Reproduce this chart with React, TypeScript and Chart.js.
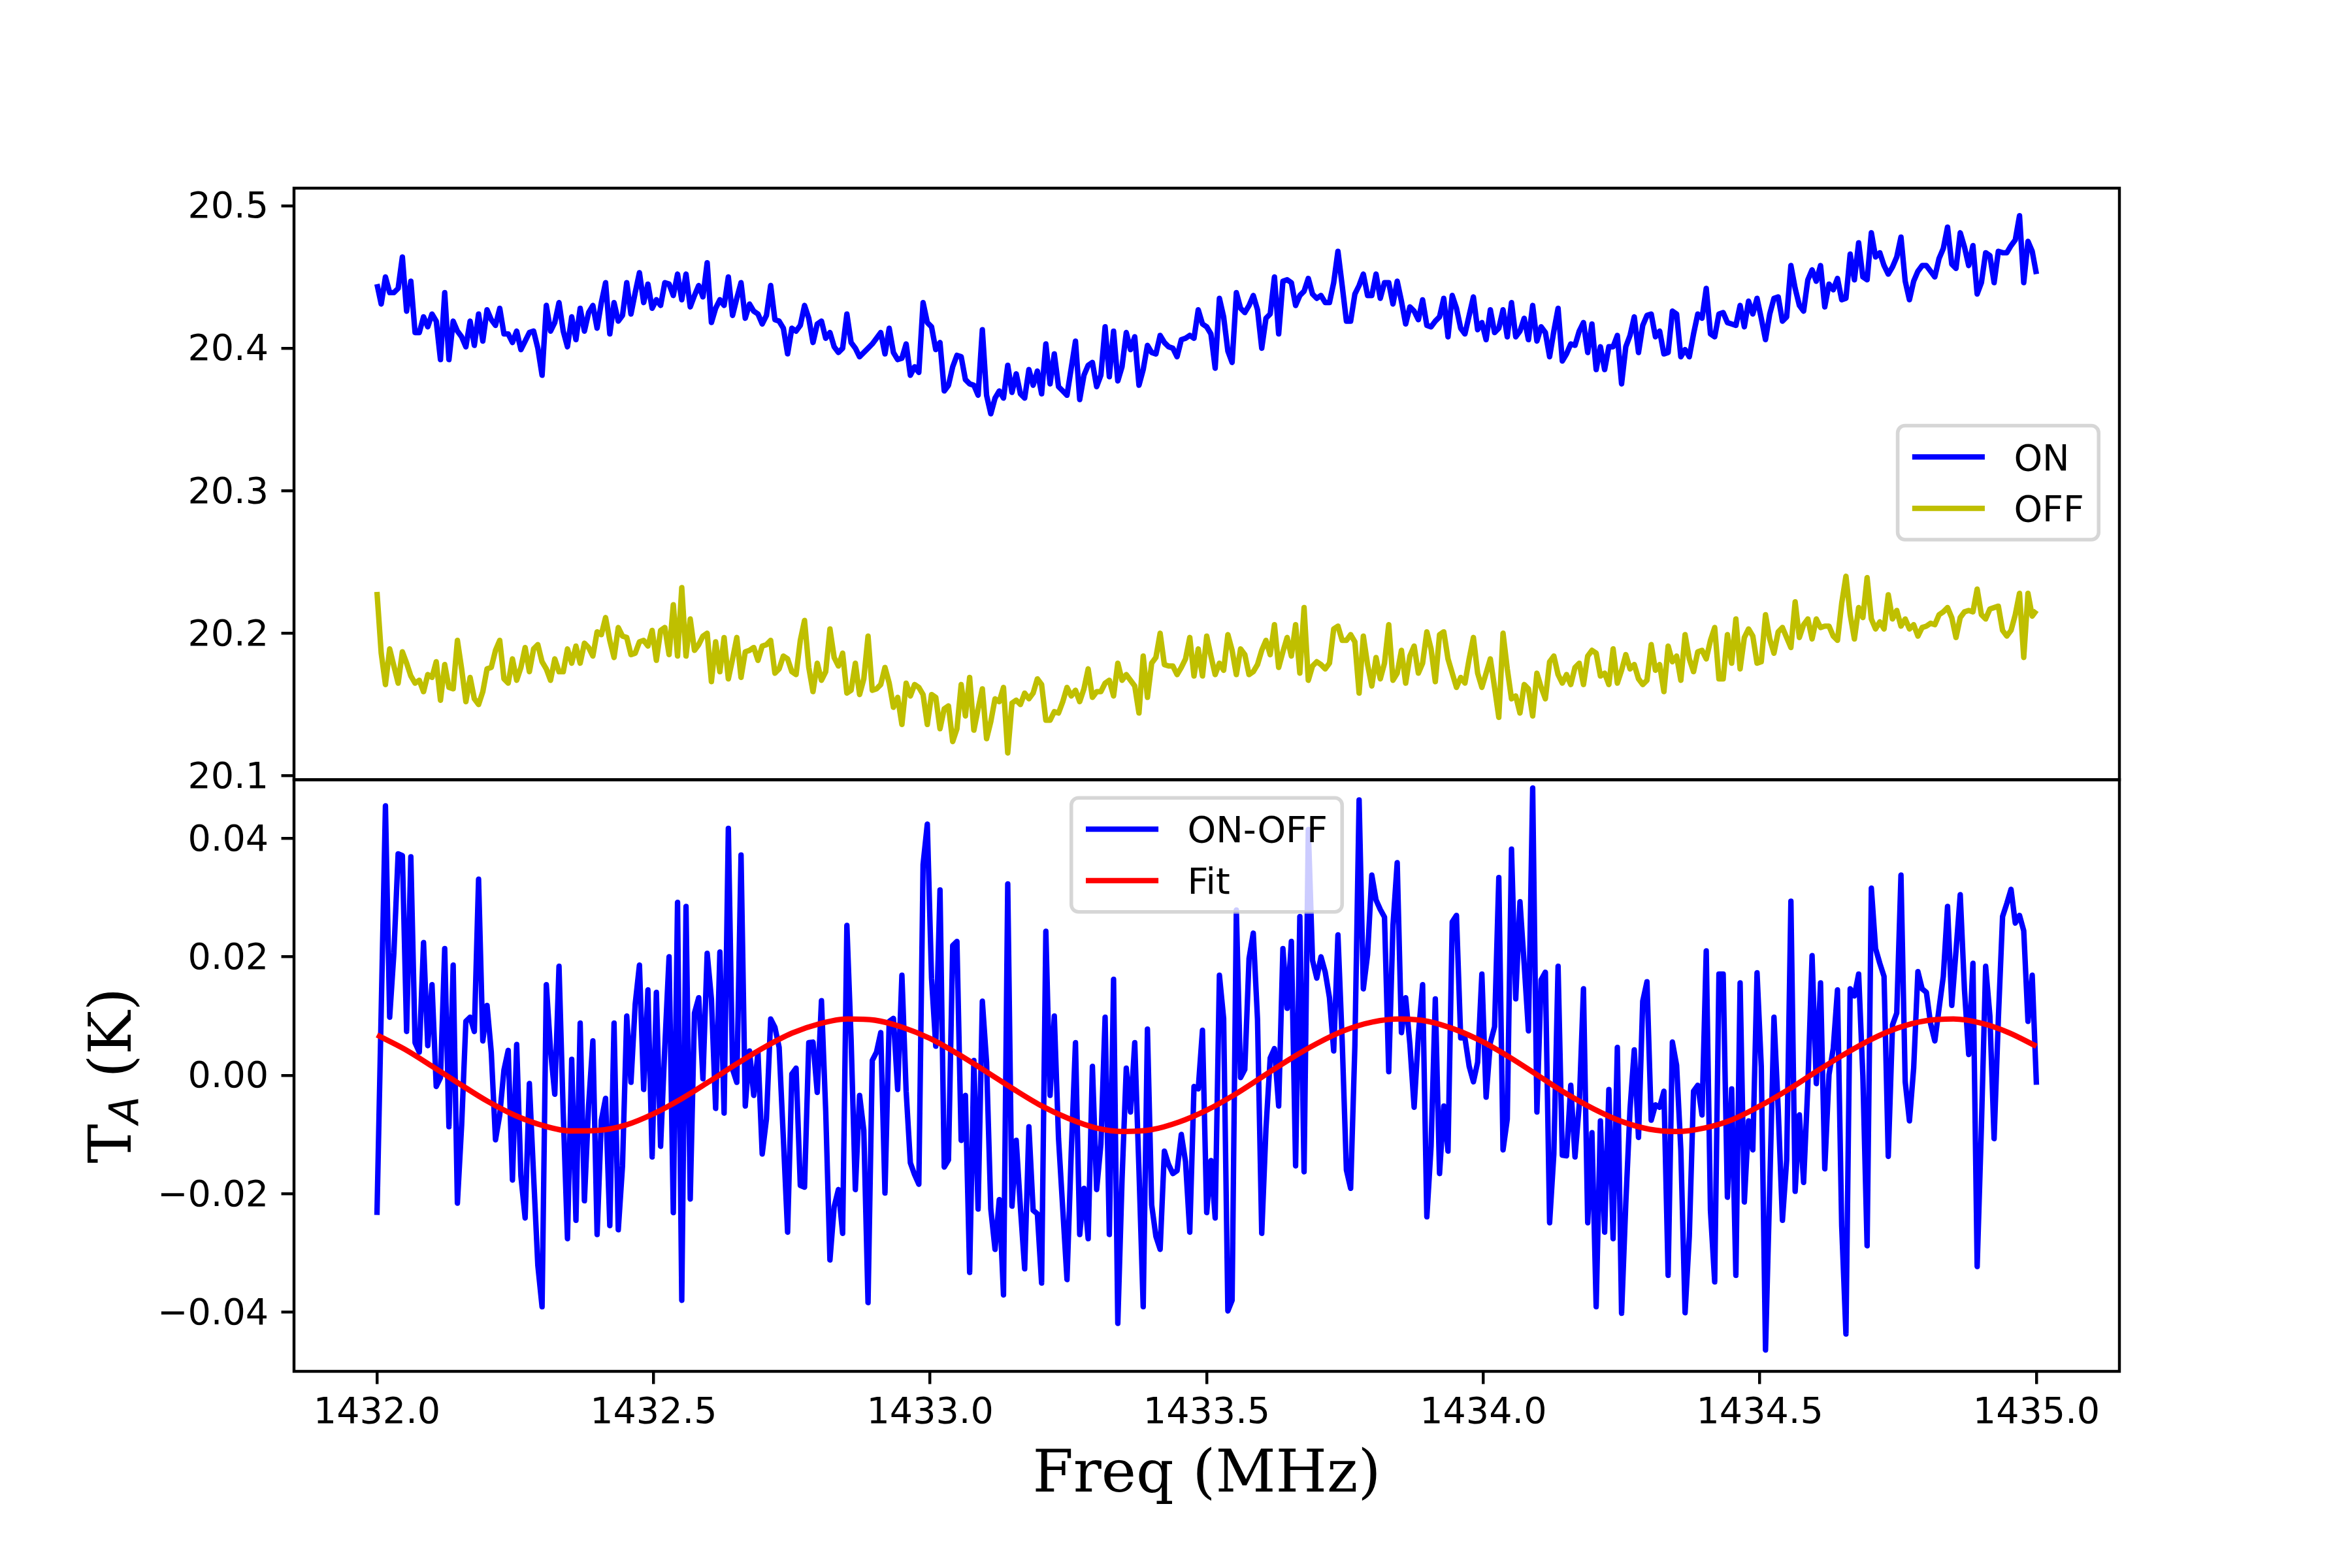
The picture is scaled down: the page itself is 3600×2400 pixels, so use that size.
import React, { useEffect, useRef } from 'react';
import { Chart, registerables } from 'chart.js';

Chart.register(...registerables);

// ---------------- data ----------------
const FREQ_START = 1432.0;
const FREQ_END = 1435.0;

const ON = [
  20.445,20.431,20.450,20.439,20.439,20.442,20.464,20.426,20.447,20.411,
  20.411,20.422,20.415,20.424,20.419,20.392,20.439,20.392,20.419,20.412,
  20.408,20.401,20.419,20.402,20.424,20.405,20.427,20.420,20.416,20.428,
  20.410,20.410,20.404,20.412,20.399,20.405,20.411,20.412,20.400,20.381,
  20.430,20.412,20.418,20.432,20.412,20.401,20.422,20.406,20.428,20.412,
  20.425,20.430,20.414,20.432,20.446,20.410,20.432,20.419,20.423,20.446,
  20.424,20.439,20.453,20.432,20.445,20.428,20.434,20.430,20.446,20.445,
  20.437,20.452,20.434,20.452,20.429,20.437,20.444,20.436,20.460,20.418,
  20.428,20.434,20.430,20.450,20.423,20.435,20.446,20.421,20.431,20.426,
  20.424,20.417,20.423,20.444,20.420,20.419,20.414,20.396,20.414,
  20.412,20.416,20.430,20.421,20.404,20.417,20.419,20.407,20.411,20.401,
  20.397,20.400,20.424,20.404,20.400,20.394,20.397,20.400,20.403,20.407,
  20.411,20.396,20.414,20.397,20.392,20.393,20.403,20.381,20.387,20.383,
  20.432,20.418,20.415,20.399,20.404,20.370,20.374,20.387,20.395,20.394,
  20.378,20.375,20.374,20.367,20.413,20.367,20.354,20.365,20.370,20.365,
  20.388,20.369,20.382,20.368,20.365,20.385,20.374,20.384,20.368,20.403,
  20.375,20.396,20.373,20.370,20.367,20.386,20.405,20.364,20.381,20.388,
  20.390,20.373,20.381,20.415,20.380,20.412,20.377,20.387,20.411,20.399,
  20.408,20.374,20.385,20.402,20.397,20.396,20.409,20.404,20.401,20.400,
  20.394,20.406,20.407,20.409,20.407,20.427,20.417,20.415,20.410,20.386,
  20.435,20.422,20.398,20.390,20.439,20.428,20.425,20.430,20.437,20.427,
  20.400,20.421,20.424,20.450,20.410,20.447,20.448,20.446,20.430,20.437,
  20.440,20.449,20.438,20.435,20.437,20.432,20.432,20.446,20.468,20.444,
  20.419,20.419,20.438,20.444,20.452,20.437,20.437,20.452,20.435,20.446,
  20.446,20.431,20.447,20.433,20.417,20.429,20.426,20.420,20.434,20.416,
  20.415,20.419,20.422,20.435,20.408,20.437,20.428,20.414,20.410,20.423,
  20.436,20.413,20.418,20.406,20.427,20.411,20.414,20.427,20.408,20.432,
  20.408,20.412,20.421,20.406,20.430,20.405,20.415,20.411,20.394,20.412,
  20.428,20.391,20.396,20.403,20.402,20.412,20.418,20.397,20.417,20.385,
  20.401,20.385,20.401,20.401,20.409,20.375,
  20.401,20.409,20.422,20.397,20.416,20.423,20.424,20.408,20.412,20.396,
  20.397,20.426,20.424,20.394,20.399,20.394,20.410,20.424,20.421,20.442,
  20.410,20.408,20.424,20.425,20.418,20.417,20.416,20.430,20.415,20.433,
  20.424,20.435,20.421,20.406,20.424,20.435,20.436,20.419,20.422,20.458,
  20.442,20.430,20.426,20.448,20.455,20.447,20.458,20.429,20.445,20.441,
  20.449,20.434,20.435,20.466,20.448,20.474,20.450,20.448,20.481,20.464,
  20.467,20.458,20.452,20.457,20.464,20.478,20.447,20.434,20.447,20.454,
  20.458,20.458,20.454,20.450,20.463,20.470,20.485,20.459,20.456,20.481,
  20.471,20.458,20.472,20.438,20.446,20.467,20.465,20.446,20.468,20.467,
  20.467,20.472,20.476,20.493,20.446,20.475,20.468,20.452,
];

const OFF = [
  20.229,20.186,20.164,20.189,20.177,20.165,20.187,20.179,20.170,20.165,
  20.167,20.159,20.171,20.169,20.180,20.153,20.178,20.162,20.161,20.195,
  20.175,20.152,20.169,20.154,20.150,20.159,20.175,20.176,20.188,20.195,
  20.168,20.165,20.182,20.167,20.176,20.190,20.173,20.189,20.192,20.180,
  20.175,20.167,20.182,20.173,20.173,20.189,20.179,20.191,20.179,20.193,
  20.190,20.184,20.201,20.199,20.211,20.195,20.183,20.204,20.198,20.197,
  20.185,20.186,20.194,20.195,20.191,20.202,20.181,20.202,20.204,20.185,
  20.220,20.184,20.232,20.184,20.210,20.188,20.192,20.198,20.200,20.166,
  20.194,20.173,20.197,20.168,20.182,20.197,20.169,20.187,20.188,20.190,
  20.181,20.191,20.192,20.195,20.172,20.175,20.184,20.182,20.173,
  20.171,20.195,20.209,20.176,20.159,20.179,20.167,20.173,20.203,20.183,
  20.177,20.186,20.158,20.160,20.179,20.157,20.168,20.198,20.160,20.161,
  20.164,20.176,20.165,20.148,20.155,20.136,20.165,20.156,20.164,20.162,
  20.157,20.136,20.157,20.155,20.133,20.147,20.149,20.124,20.133,20.164,
  20.142,20.169,20.132,20.147,20.161,20.126,20.138,20.154,20.152,20.162,
  20.116,20.151,20.153,20.150,20.158,20.154,20.158,20.168,20.164,20.139,
  20.139,20.145,20.144,20.152,20.162,20.156,20.160,20.152,20.161,20.175,
  20.155,20.159,20.159,20.165,20.167,20.156,20.179,20.167,20.171,20.167,
  20.163,20.144,20.184,20.155,20.179,20.183,20.200,20.178,20.177,20.177,
  20.171,20.176,20.182,20.197,20.170,20.189,20.170,20.198,20.184,20.171,
  20.179,20.174,20.199,20.188,20.171,20.189,20.185,20.171,20.173,20.178,
  20.188,20.195,20.185,20.206,20.176,20.187,20.197,20.184,20.206,20.172,
  20.218,20.167,20.177,20.180,20.178,20.175,20.179,20.203,20.205,20.195,
  20.195,20.199,20.194,20.158,20.198,20.178,20.163,20.183,20.168,20.179,
  20.206,20.167,20.172,20.188,20.165,20.184,20.191,20.172,20.179,20.201,
  20.189,20.166,20.199,20.201,20.182,20.172,20.162,20.169,20.165,20.182,
  20.197,20.172,20.162,20.172,20.182,20.162,20.141,20.200,20.175,20.154,
  20.156,20.144,20.164,20.161,20.142,20.172,20.162,20.154,20.180,20.184,
  20.171,20.165,20.171,20.164,20.176,20.179,20.164,20.184,20.188,20.186,
  20.170,20.172,20.164,20.189,20.165,20.174,
  20.185,20.175,20.178,20.168,20.164,20.167,20.192,20.174,20.178,20.159,
  20.191,20.180,20.184,20.167,20.199,20.182,20.173,20.187,20.188,20.182,
  20.195,20.204,20.168,20.168,20.199,20.179,20.210,20.175,20.197,20.203,
  20.198,20.179,20.180,20.213,20.196,20.186,20.201,20.204,20.197,20.190,
  20.222,20.197,20.206,20.210,20.196,20.210,20.204,20.205,20.205,20.198,
  20.195,20.221,20.240,20.213,20.196,20.218,20.211,20.239,20.210,20.203,
  20.208,20.203,20.227,20.210,20.216,20.205,20.210,20.203,20.206,20.198,
  20.204,20.205,20.207,20.206,20.213,20.215,20.218,20.211,20.197,20.211,
  20.215,20.216,20.215,20.231,20.213,20.210,20.217,20.218,20.219,20.202,
  20.198,20.202,20.213,20.228,20.183,20.228,20.212,20.216,
];

const ON_OFF = [
  -0.0236,0.0109,0.0455,0.0098,0.0207,0.0374,0.0371,0.0074,0.0369,0.0055,
  0.0039,0.0224,0.0050,0.0153,-0.0019,-0.0004,0.0214,-0.0087,0.0186,-0.0216,
  -0.0084,0.0091,0.0098,0.0074,0.0331,0.0058,0.0118,0.0039,-0.0109,-0.0067,
  0.0009,0.0042,-0.0177,0.0052,-0.0170,-0.0241,-0.0014,-0.0170,-0.0321,-0.0391,
  0.0153,0.0042,-0.0032,0.0184,-0.0064,-0.0276,0.0027,-0.0245,0.0088,-0.0212,
  -0.0050,0.0058,-0.0269,-0.0076,-0.0039,-0.0254,0.0088,-0.0261,-0.0153,0.0100,
  -0.0012,0.0120,0.0186,-0.0024,0.0144,-0.0138,0.0140,-0.0120,0.0049,0.0200,
  -0.0232,0.0292,-0.0380,0.0285,-0.0209,0.0105,0.0131,-0.0006,0.0206,0.0129,
  -0.0056,0.0208,-0.0064,0.0417,0.0010,-0.0012,0.0372,-0.0052,0.0041,-0.0034,
  0.0039,-0.0133,-0.0074,0.0095,0.0081,0.0047,-0.0107,-0.0265,0.0002,
  0.0012,-0.0186,-0.0189,0.0055,0.0056,-0.0029,0.0126,-0.0060,-0.0312,-0.0222,
  -0.0193,-0.0267,0.0253,0.0060,-0.0193,-0.0034,-0.0093,-0.0384,0.0025,0.0039,
  0.0072,-0.0199,0.0091,0.0096,-0.0024,0.0169,-0.0027,-0.0148,-0.0168,-0.0184,
  0.0356,0.0424,0.0164,0.0049,0.0313,-0.0155,-0.0143,0.0219,0.0226,-0.0110,
  -0.0034,-0.0333,0.0025,-0.0226,0.0125,0.0022,-0.0226,-0.0294,-0.0210,-0.0371,
  0.0323,-0.0221,-0.0110,-0.0224,-0.0327,-0.0087,-0.0228,-0.0234,-0.0351,0.0243,
  -0.0034,0.0100,-0.0107,-0.0226,-0.0345,-0.0130,0.0055,-0.0269,-0.0191,-0.0276,
  0.0015,-0.0193,-0.0117,0.0098,-0.0269,0.0162,-0.0419,-0.0176,0.0012,-0.0062,
  0.0055,-0.0160,-0.0391,0.0078,-0.0219,-0.0272,-0.0294,-0.0128,-0.0151,-0.0166,
  -0.0161,-0.0100,-0.0146,-0.0265,-0.0019,-0.0023,0.0076,-0.0232,-0.0144,-0.0241,
  0.0169,0.0096,-0.0398,-0.0380,0.0279,-0.0004,0.0010,0.0197,0.0240,0.0095,
  -0.0267,-0.0090,0.0029,0.0045,-0.0052,0.0214,0.0113,0.0226,-0.0153,0.0268,
  -0.0163,0.0415,0.0194,0.0164,0.0200,0.0174,0.0131,0.0041,0.0237,0.0058,
  -0.0160,-0.0191,0.0049,0.0465,0.0146,0.0204,0.0338,0.0296,0.0280,0.0267,
  0.0006,0.0253,0.0359,0.0072,0.0131,0.0052,-0.0054,0.0068,0.0153,-0.0239,
  -0.0120,0.0129,-0.0166,-0.0052,-0.0128,0.0259,0.0270,0.0063,0.0063,0.0015,
  -0.0011,0.0022,0.0171,-0.0037,0.0055,0.0082,0.0334,-0.0126,-0.0074,0.0382,
  0.0129,0.0293,0.0187,0.0075,0.0485,-0.0062,0.0161,0.0174,-0.0249,-0.0133,
  0.0184,-0.0135,-0.0136,-0.0017,-0.0138,-0.0050,0.0146,-0.0249,-0.0097,-0.0391,
  -0.0077,-0.0265,-0.0024,-0.0276,0.0047,-0.0402,
  -0.0216,-0.0057,0.0043,-0.0105,0.0125,0.0158,-0.0076,-0.0050,-0.0054,-0.0027,
  -0.0338,0.0056,0.0017,-0.0126,-0.0401,-0.0272,-0.0027,-0.0017,-0.0067,0.0210,
  -0.0229,-0.0349,0.0171,0.0171,-0.0206,-0.0023,-0.0338,0.0156,-0.0214,-0.0077,
  -0.0126,0.0173,0.0015,-0.0464,-0.0189,0.0098,-0.0057,-0.0245,-0.0143,0.0294,
  -0.0196,-0.0067,-0.0181,-0.0017,0.0202,-0.0014,0.0156,-0.0158,0.0001,0.0045,
  0.0144,-0.0255,-0.0437,0.0146,0.0134,0.0171,-0.0001,-0.0288,0.0316,0.0214,
  0.0189,0.0167,-0.0137,0.0085,0.0105,0.0338,-0.0011,-0.0077,0.0012,0.0175,
  0.0146,0.0140,0.0087,0.0058,0.0113,0.0167,0.0285,0.0118,0.0210,0.0305,
  0.0144,0.0035,0.0189,-0.0323,-0.0087,0.0184,0.0101,-0.0107,0.0095,0.0268,
  0.0290,0.0314,0.0257,0.0270,0.0244,0.0091,0.0169,-0.0016,
];

const FIT_START = 1432.0;
const FIT_STEP = 0.05;
const FIT = [
  0.0068,0.0044,0.0015,-0.0015,-0.0044,-0.0068,-0.0085,-0.0094,-0.0093,-0.0084,
  -0.0065,-0.0040,-0.0011,0.0019,0.0047,0.0071,0.0087,0.0095,0.0093,0.0081,
  0.0062,0.0036,0.0007,-0.0023,-0.0051,-0.0073,-0.0089,-0.0095,-0.0092,-0.0079,
  -0.0059,-0.0033,-0.0003,0.0027,0.0054,0.0076,0.0090,0.0095,0.0091,0.0077,
  0.0056,0.0029,-0.0001,-0.0031,-0.0057,-0.0078,-0.0091,-0.0095,-0.0089,-0.0075,
  -0.0052,-0.0025,0.0005,0.0034,0.0060,0.0080,0.0092,0.0095,0.0088,0.0072,
  0.0049,
];

const X_TICKS = [1432.0, 1432.5, 1433.0, 1433.5, 1434.0, 1434.5, 1435.0];
const X_TICK_LABELS = ['1432.0', '1432.5', '1433.0', '1433.5', '1434.0', '1434.5', '1435.0'];
const TOP_TICKS = [20.1, 20.2, 20.3, 20.4, 20.5];
const TOP_TICK_LABELS = ['20.1', '20.2', '20.3', '20.4', '20.5'];
const BOT_TICKS = [-0.04, -0.02, 0.0, 0.02, 0.04];
const BOT_TICK_LABELS = ['\u22120.04', '\u22120.02', '0.00', '0.02', '0.04'];

const LABEL_ON = 'ON';
const LABEL_OFF = 'OFF';
const LABEL_DIFF = 'ON-OFF';
const LABEL_FIT = 'Fit';
const X_TITLE = 'Freq (MHz)';
const Y_TITLE_MAIN = 'T';
const Y_TITLE_SUB = 'A';
const Y_TITLE_REST = ' (K)';

// ---------------- styling ----------------
const PT = 400 / 72; // figure rendered at 400 dpi
const W = 3600;
const H = 2400;
const AX_LEFT = 450;
const AX_RIGHT = 3244;
const AX_TOP = 288;
const AX_BOTTOM = 2099;
const TICK_FS = 10 * PT;
const LABEL_FS = 90;
const LINE_W = 1.5 * PT;
const SPINE_W = 0.8 * PT;
const TICK_LEN = 3.5 * PT;
const C_BLUE = '#0000ff';
const C_YELLOW = '#bfbf00';
const C_RED = '#ff0000';
const SANS = '"DejaVu Sans", sans-serif';
const SERIF = '"DejaVu Serif", serif';

function roundRectPath(ctx: CanvasRenderingContext2D, x: number, y: number, w: number, h: number, r: number) {
  ctx.beginPath();
  ctx.moveTo(x + r, y);
  ctx.lineTo(x + w - r, y);
  ctx.arcTo(x + w, y, x + w, y + r, r);
  ctx.lineTo(x + w, y + h - r);
  ctx.arcTo(x + w, y + h, x + w - r, y + h, r);
  ctx.lineTo(x + r, y + h);
  ctx.arcTo(x, y + h, x, y + h - r, r);
  ctx.lineTo(x, y + r);
  ctx.arcTo(x, y, x + r, y, r);
  ctx.closePath();
}

function drawLegend(
  ctx: CanvasRenderingContext2D,
  items: { label: string; color: string }[],
  mode: 'centerRight' | 'upperCenter',
  box: { left: number; right: number; top: number; bottom: number }
) {
  const fs = TICK_FS;
  const pad = 0.4 * fs;
  const handle = 2.0 * fs;
  const htp = 0.8 * fs;
  const rowH = 0.92 * fs;
  const spacing = 0.5 * fs;
  ctx.font = `${fs}px ${SANS}`;
  const textW = Math.max(...items.map((it) => ctx.measureText(it.label).width));
  const bw = pad + handle + htp + textW + pad;
  const bh = pad * 2 + rowH * items.length + spacing * (items.length - 1);
  let x: number;
  let y: number;
  if (mode === 'centerRight') {
    x = box.right - 0.5 * fs - bw - 4;
    y = (box.top + box.bottom) / 2 - bh / 2 - 2;
  } else {
    x = (box.left + box.right) / 2 - bw / 2;
    y = box.top + 0.5 * fs;
  }
  roundRectPath(ctx, x, y, bw, bh, 0.2 * fs);
  ctx.fillStyle = 'rgba(255,255,255,0.8)';
  ctx.fill();
  ctx.lineWidth = 1.0 * PT;
  ctx.strokeStyle = 'rgba(204,204,204,0.8)';
  ctx.stroke();
  items.forEach((it, i) => {
    const cy = y + pad + rowH * (i + 0.5) + spacing * i;
    ctx.beginPath();
    ctx.moveTo(x + pad, cy);
    ctx.lineTo(x + pad + handle, cy);
    ctx.lineWidth = LINE_W;
    ctx.strokeStyle = it.color;
    ctx.lineCap = 'butt';
    ctx.stroke();
    ctx.fillStyle = '#000';
    ctx.textAlign = 'left';
    ctx.textBaseline = 'alphabetic';
    ctx.font = `${fs}px ${SANS}`;
    ctx.fillText(it.label, x + pad + handle + htp, cy + 0.729 * fs / 2);
  });
}

const decorPlugin = {
  id: 'mplDecor',
  afterDraw(chart: any) {
    const ctx: CanvasRenderingContext2D = chart.ctx;
    const area = chart.chartArea;
    const yT = chart.scales.yTop;
    const yB = chart.scales.yBot;
    const ds = chart.data.datasets;
    ctx.save();
    // axes frames
    ctx.lineWidth = SPINE_W;
    ctx.strokeStyle = '#000';
    [yT, yB].forEach((s: any) => {
      ctx.strokeRect(area.left, s.top, area.right - area.left, s.bottom - s.top);
    });
    // legends
    drawLegend(ctx, [
      { label: ds[0].label, color: ds[0].borderColor },
      { label: ds[1].label, color: ds[1].borderColor },
    ], 'centerRight', { left: area.left, right: area.right, top: yT.top, bottom: yT.bottom });
    drawLegend(ctx, [
      { label: ds[2].label, color: ds[2].borderColor },
      { label: ds[3].label, color: ds[3].borderColor },
    ], 'upperCenter', { left: area.left, right: area.right, top: yB.top, bottom: yB.bottom });
    // x title
    ctx.fillStyle = '#000';
    ctx.font = `${LABEL_FS}px ${SERIF}`;
    ctx.textAlign = 'center';
    ctx.textBaseline = 'alphabetic';
    ctx.fillText(X_TITLE, (area.left + area.right) / 2, area.bottom + 184);
    // y title (rotated, with subscript)
    const mainFont = `${LABEL_FS}px ${SERIF}`;
    const subFont = `italic ${Math.round(LABEL_FS * 0.69)}px ${SANS}`;
    ctx.font = mainFont;
    const wT = ctx.measureText(Y_TITLE_MAIN).width;
    const wR = ctx.measureText(Y_TITLE_REST).width;
    ctx.font = subFont;
    const wA = ctx.measureText(Y_TITLE_SUB).width;
    const total = wT + wA + wR;
    const cy = (yB.top + yB.bottom) / 2;
    ctx.translate(200, cy);
    ctx.rotate(-Math.PI / 2);
    ctx.textAlign = 'left';
    let tx = -total / 2;
    ctx.font = mainFont;
    ctx.fillText(Y_TITLE_MAIN, tx, 0);
    tx += wT;
    ctx.font = subFont;
    ctx.fillText(Y_TITLE_SUB, tx, 12);
    tx += wA;
    ctx.font = mainFont;
    ctx.fillText(Y_TITLE_REST, tx, 0);
    ctx.restore();
  },
};

function tickGrid() {
  return {
    display: true,
    drawOnChartArea: false,
    drawTicks: true,
    tickLength: TICK_LEN,
    tickWidth: SPINE_W,
    tickColor: '#000',
    color: '#000',
    lineWidth: SPINE_W,
  };
}

export default function App() {
  const ref = useRef<HTMLCanvasElement | null>(null);

  useEffect(() => {
    if (!ref.current) return;
    const n = ON.length;
    const freq = ON.map((_, i) => FREQ_START + (i * (FREQ_END - FREQ_START)) / (n - 1));
    const fitFreq = FIT.map((_, i) => +(FIT_START + i * FIT_STEP).toFixed(4));
    const lineBase = {
      pointRadius: 0,
      pointHoverRadius: 0,
      borderWidth: LINE_W,
      borderJoinStyle: 'round' as const,
      fill: false,
      tension: 0,
    };
    const chart = new Chart(ref.current, {
      type: 'line',
      data: {
        datasets: [
          { ...lineBase, label: LABEL_ON, data: freq.map((x, i) => ({ x, y: ON[i] })), borderColor: C_BLUE, yAxisID: 'yTop', order: 2 },
          { ...lineBase, label: LABEL_OFF, data: freq.map((x, i) => ({ x, y: OFF[i] })), borderColor: C_YELLOW, yAxisID: 'yTop', order: 1 },
          { ...lineBase, label: LABEL_DIFF, data: freq.map((x, i) => ({ x, y: ON_OFF[i] })), borderColor: C_BLUE, yAxisID: 'yBot', order: 3 },
          { ...lineBase, label: LABEL_FIT, data: fitFreq.map((x, i) => ({ x, y: FIT[i] })), borderColor: C_RED, yAxisID: 'yBot', order: 0, cubicInterpolationMode: 'monotone' as const },
        ],
      },
      options: {
        animation: false,
        responsive: false,
        maintainAspectRatio: false,
        layout: { padding: { top: AX_TOP, right: W - AX_RIGHT, bottom: 0, left: 0 }, autoPadding: false },
        plugins: { legend: { display: false }, tooltip: { enabled: false } },
        events: [],
        scales: {
          x: {
            type: 'linear',
            position: 'bottom',
            min: 1431.85,
            max: 1435.15,
            afterBuildTicks: (s: any) => { s.ticks = X_TICKS.map((v) => ({ value: v })); },
            afterFit: (s: any) => { s.height = H - AX_BOTTOM; },
            grid: tickGrid(),
            border: { display: false },
            ticks: {
              autoSkip: false,
              maxRotation: 0,
              minRotation: 0,
              padding: TICK_LEN * 0.6,
              color: '#000',
              font: { family: SANS, size: TICK_FS },
              callback: (_v: any, i: number) => X_TICK_LABELS[i],
            },
          },
          yBot: {
            type: 'linear',
            position: 'left',
            stack: 'panels',
            stackWeight: 1,
            weight: 1,
            min: -0.0500,
            max: 0.0499,
            afterBuildTicks: (s: any) => { s.ticks = BOT_TICKS.map((v) => ({ value: v })); },
            afterFit: (s: any) => { s.width = AX_LEFT; },
            grid: tickGrid(),
            border: { display: false },
            ticks: {
              padding: TICK_LEN,
              labelOffset: 4,
              color: '#000',
              font: { family: SANS, size: TICK_FS },
              callback: (_v: any, i: number) => BOT_TICK_LABELS[i],
            },
          },
          yTop: {
            type: 'linear',
            position: 'left',
            stack: 'panels',
            stackWeight: 1,
            weight: 2,
            min: 20.0972,
            max: 20.5123,
            afterBuildTicks: (s: any) => { s.ticks = TOP_TICKS.map((v) => ({ value: v })); },
            afterFit: (s: any) => { s.width = AX_LEFT; },
            grid: tickGrid(),
            border: { display: false },
            ticks: {
              padding: TICK_LEN,
              labelOffset: 4,
              color: '#000',
              font: { family: SANS, size: TICK_FS },
              callback: (_v: any, i: number) => TOP_TICK_LABELS[i],
            },
          },
        },
      },
      plugins: [decorPlugin],
    } as any);
    return () => chart.destroy();
  }, []);

  return (
    <div style={{ position: 'absolute', left: 0, top: 0, width: W, height: H, background: '#ffffff' }}>
      <canvas ref={ref} width={W} height={H} style={{ display: 'block', width: W, height: H }} />
    </div>
  );
}
